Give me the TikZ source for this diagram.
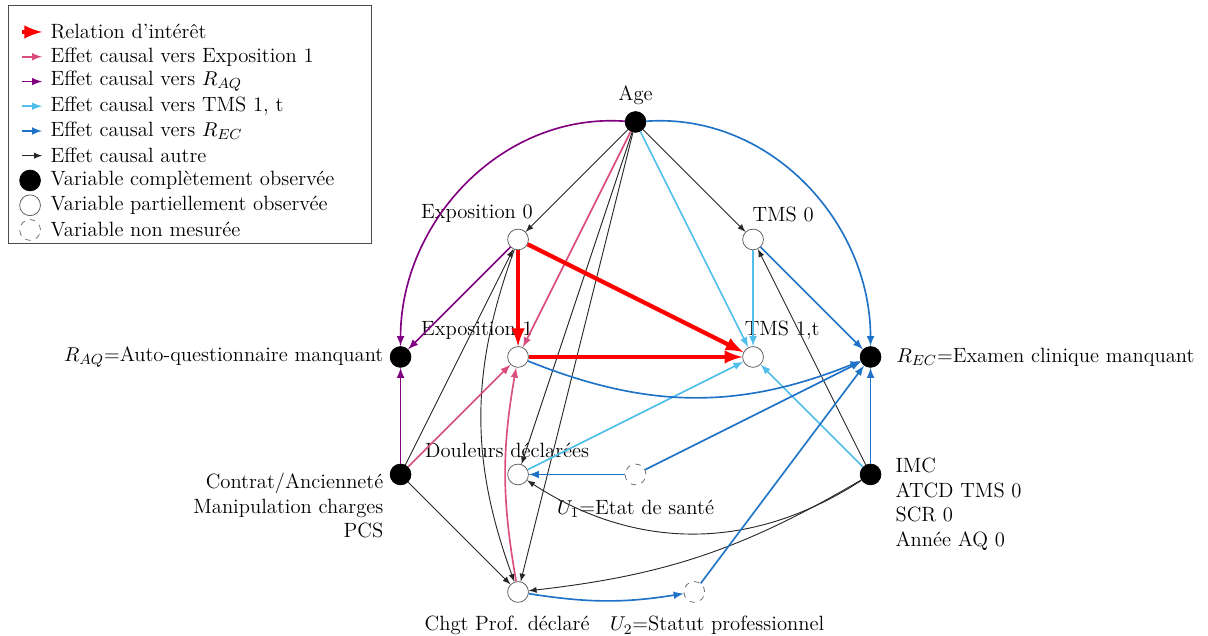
\documentclass[tikz,border=0pt]{standalone}
\usetikzlibrary{positioning}
\definecolor{expocol}{RGB}{218,77,128}
\definecolor{raqcol}{RGB}{128,0,128}
\definecolor{tmscol}{RGB}{80,190,235}
\definecolor{reccol}{RGB}{30,115,200}

\begin{document}
\begin{tikzpicture}[x=2.26cm,y=2.26cm,font=\fontsize{11.3pt}{13.4pt}\selectfont,
  obs/.style={circle,fill=black,draw=black,minimum size=0.4cm,inner sep=0pt},
  part/.style={circle,fill=white,draw=black!65,minimum size=0.4cm,inner sep=0pt},
  unobs/.style={circle,draw=black!60,dashed,minimum size=0.4cm,inner sep=0pt},
  interest/.style={-latex,red,line width=2.3pt},
  expo/.style={-latex,expocol,line width=0.9pt},
  raq/.style={-latex,raqcol,line width=0.9pt},
  tms/.style={-latex,tmscol,line width=0.9pt},
  rec/.style={-latex,reccol,line width=0.9pt},
  other/.style={-latex,black!85,line width=0.5pt}]
  \useasboundingbox (-4.409,-2.374) rectangle (5.872,3.038);

  % legende
  \draw[black!70] (-4.340,0.970) rectangle (-1.251,2.996);
  \draw[interest] (-4.221,2.766) -- (-4.051,2.766);
  \draw[expo] (-4.221,2.555) -- (-4.051,2.555);
  \draw[raq] (-4.221,2.344) -- (-4.051,2.344);
  \draw[tms] (-4.221,2.134) -- (-4.051,2.134);
  \draw[rec] (-4.221,1.923) -- (-4.051,1.923);
  \draw[other] (-4.221,1.713) -- (-4.051,1.713);
  \node[obs] (legobs) at (-4.153,1.502) {};
  \node[part] (legpart) at (-4.153,1.291) {};
  \node[unobs] (legunobs) at (-4.153,1.081) {};
  \node[anchor=west] (leg1) at (-4.034,2.766) {Relation d'intérêt};
  \node[anchor=west] (leg2) at (-4.034,2.555) {Effet causal vers Exposition 1};
  \node[anchor=west] (leg3) at (-4.034,2.344) {Effet causal vers $R_{AQ}$};
  \node[anchor=west] (leg4) at (-4.034,2.134) {Effet causal vers TMS 1, t};
  \node[anchor=west] (leg5) at (-4.034,1.923) {Effet causal vers $R_{EC}$};
  \node[anchor=west] (leg6) at (-4.034,1.713) {Effet causal autre};
  \node[anchor=west] (leg7) at (-4.034,1.502) {Variable complètement observée};
  \node[anchor=west] (leg8) at (-4.034,1.291) {Variable partiellement observée};
  \node[anchor=west] (leg9) at (-4.034,1.081) {Variable non mesurée};

  % variables
  \node[obs,label=above:Age] (age) at (1,2) {};
  \node[part,label={[xshift=-0.79cm]above:Exposition 0}] (expo0) at (0,1) {};
  \node[part,label={[xshift=0.58cm]above:TMS 0}] (tms0) at (2,1) {};
  \node[obs,label={left:{$R_{AQ}$=Auto-questionnaire manquant}}] (raq) at (-1,0) {};
  \node[part,label={[xshift=-0.79cm]above:Exposition 1}] (expo1) at (0,0) {};
  \node[part,label={[xshift=0.56cm]above:TMS 1,t}] (tms1) at (2,0) {};
  \node[obs,label={[xshift=0.17cm]right:{$R_{EC}$=Examen clinique manquant}}] (rec) at (3,0) {};
  \node[obs,label={[align=right,anchor=north east,yshift=0.15cm]left:Contrat/Ancienneté\\Manipulation charges\\PCS}] (contrat) at (-1,-1) {};
  \node[part,label={[xshift=-0.21cm]above:Douleurs déclarées}] (doul) at (0,-1) {};
  \node[unobs,label={[yshift=-0.17cm]below:{$U_1$=Etat de santé}}] (uone) at (1,-1) {};
  \node[obs,label={[align=left,anchor=north west,xshift=0.15cm,yshift=0.44cm]right:IMC\\ATCD TMS 0\\SCR 0\\Année AQ 0}] (imc) at (3,-1) {};
  \node[part,label={[xshift=-0.21cm,yshift=-0.14cm]below:Chgt Prof. déclaré}] (chgt) at (0,-2) {};
  \node[unobs,label={[xshift=0.44cm,yshift=-0.14cm]below:{$U_2$=Statut professionnel}}] (utwo) at (1.5,-2) {};

  % effets autres
  \draw[other] (age) -- (expo0);
  \draw[other] (age) -- (tms0);
  \draw[other] (age) -- (doul);
  \draw[other] (age) -- (chgt);
  \draw[other] (contrat) -- (expo0);
  \draw[other] (expo0) to[bend right=20] (chgt);
  \draw[other] (contrat) -- (chgt);
  \draw[other] (imc) to[bend left=33] (doul);
  \draw[other] (imc) to[bend left=12] (chgt);
  \draw[other] (imc) -- (tms0);

  % vers R_AQ
  \draw[raq] (age) to[out=176,in=90] (raq);
  \draw[raq] (expo0) -- (raq);
  \draw[raq] (contrat) -- (raq);

  % vers Exposition 1
  \draw[expo] (age) -- (expo1);
  \draw[expo] (contrat) -- (expo1);
  \draw[expo] (chgt) to[bend left=10] (expo1);

  % vers TMS 1,t
  \draw[tms] (age) -- (tms1);
  \draw[tms] (tms0) -- (tms1);
  \draw[tms] (doul) -- (tms1);
  \draw[tms] (imc) -- (tms1);

  % vers R_EC
  \draw[rec] (age) to[out=4,in=90] (rec);
  \draw[rec] (tms0) -- (rec);
  \draw[rec] (expo1) to[bend right=22] (rec);
  \draw[rec] (uone) -- (rec);
  \draw[rec] (utwo) -- (rec);
  \draw[rec] (imc) -- (rec);
  \draw[rec] (uone) -- (doul);
  \draw[rec] (chgt) to[bend right=9] (utwo);

  % relation d'interet
  \draw[interest] (expo0) -- (expo1);
  \draw[interest] (expo0) -- (tms1);
  \draw[interest] (expo1) -- (tms1);
\end{tikzpicture}
\end{document}
